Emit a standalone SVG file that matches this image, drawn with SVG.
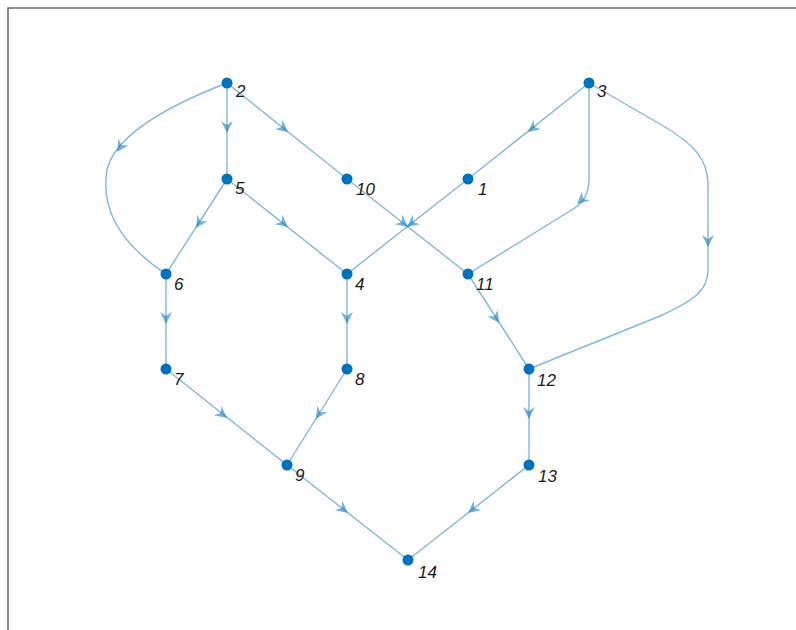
<svg xmlns="http://www.w3.org/2000/svg" xmlns:xlink="http://www.w3.org/1999/xlink" width="796" height="630" viewBox="0 0 796 630">
<style>
.edge{fill:none;stroke:#0072BD;stroke-opacity:0.5;stroke-width:1.4}
.ah{fill:#0072BD;fill-opacity:0.55}
.node circle{fill:#0072BD}
.node text{font-family:"Liberation Sans",Arial,sans-serif;font-size:17px;font-style:italic;fill:#1a1a1a}
.axis{fill:none;stroke:#6e6e6e;stroke-width:1.6}
</style>
<defs>
<path id="ah" d="M0,0 L-12,-6 L-8,0 L-12,6 Z"/>
</defs>
<rect x="0" y="0" width="796" height="630" fill="#ffffff"/>
<path class="axis" d="M8,630 L8,8 L796,8"/>
<g id="edges">
<path class="edge" d="M227,83 L227,179"/>
<path class="edge" d="M227,83 L347,179"/>
<path class="edge" d="M227,83 C170,105 115,135 107,170 C101,205 115,240 166,274"/>
<path class="edge" d="M589,83 L468,179"/>
<path class="edge" d="M589,83 L589,178 C589,196 582,204 570,211 L468,274"/>
<path class="edge" d="M589,83 L665,127 C695,145 708,160 708,185 L708,270 C708,290 695,300 660,316 L529,369"/>
<path class="edge" d="M227,179 L166,274"/>
<path class="edge" d="M227,179 L347,274"/>
<path class="edge" d="M347,179 L468,274"/>
<path class="edge" d="M468,179 L347,274"/>
<path class="edge" d="M166,274 L166,369"/>
<path class="edge" d="M347,274 L347,369"/>
<path class="edge" d="M468,274 L529,369"/>
<path class="edge" d="M166,369 L287,465"/>
<path class="edge" d="M347,369 L287,465"/>
<path class="edge" d="M529,369 L529,465"/>
<path class="edge" d="M287,465 L408,560"/>
<path class="edge" d="M529,465 L408,560"/>
<g class="ah">
<use xlink:href="#ah" transform="translate(227,133) rotate(90)"/>
<use xlink:href="#ah" transform="translate(288,132) rotate(38.7)"/>
<use xlink:href="#ah" transform="translate(117,152) rotate(123)"/>
<use xlink:href="#ah" transform="translate(528,132) rotate(141.6)"/>
<use xlink:href="#ah" transform="translate(577,204) rotate(138)"/>
<use xlink:href="#ah" transform="translate(708,247) rotate(90)"/>
<use xlink:href="#ah" transform="translate(196,228) rotate(122.7)"/>
<use xlink:href="#ah" transform="translate(288,227) rotate(38.4)"/>
<use xlink:href="#ah" transform="translate(408,227) rotate(38.1)"/>
<use xlink:href="#ah" transform="translate(407,227) rotate(141.9)"/>
<use xlink:href="#ah" transform="translate(166,324) rotate(90)"/>
<use xlink:href="#ah" transform="translate(347,324) rotate(90)"/>
<use xlink:href="#ah" transform="translate(499,323) rotate(57.3)"/>
<use xlink:href="#ah" transform="translate(227,418) rotate(38.4)"/>
<use xlink:href="#ah" transform="translate(316,419) rotate(122)"/>
<use xlink:href="#ah" transform="translate(529,419) rotate(90)"/>
<use xlink:href="#ah" transform="translate(348,513) rotate(38.1)"/>
<use xlink:href="#ah" transform="translate(468,513) rotate(141.9)"/>
</g>
</g>
<g id="n1" class="node"><circle cx="468" cy="179" r="5.5"/><text x="478" y="195">1</text></g>
<g id="n2" class="node"><circle cx="227" cy="83" r="5.5"/><text x="236" y="97">2</text></g>
<g id="n3" class="node"><circle cx="589" cy="83" r="5.5"/><text x="597" y="97">3</text></g>
<g id="n4" class="node"><circle cx="347" cy="274" r="5.5"/><text x="355" y="290">4</text></g>
<g id="n5" class="node"><circle cx="227" cy="179" r="5.5"/><text x="235" y="194">5</text></g>
<g id="n6" class="node"><circle cx="166" cy="274" r="5.5"/><text x="174" y="290">6</text></g>
<g id="n7" class="node"><circle cx="166" cy="369" r="5.5"/><text x="174" y="385">7</text></g>
<g id="n8" class="node"><circle cx="347" cy="369" r="5.5"/><text x="355" y="385">8</text></g>
<g id="n9" class="node"><circle cx="287" cy="465" r="5.5"/><text x="295" y="481">9</text></g>
<g id="n10" class="node"><circle cx="347" cy="179" r="5.5"/><text x="356" y="195">10</text></g>
<g id="n11" class="node"><circle cx="468" cy="274" r="5.5"/><text x="476" y="290">11</text></g>
<g id="n12" class="node"><circle cx="529" cy="369" r="5.5"/><text x="537" y="386">12</text></g>
<g id="n13" class="node"><circle cx="529" cy="465" r="5.5"/><text x="538" y="482">13</text></g>
<g id="n14" class="node"><circle cx="408" cy="560" r="5.5"/><text x="418" y="578">14</text></g>
</svg>
